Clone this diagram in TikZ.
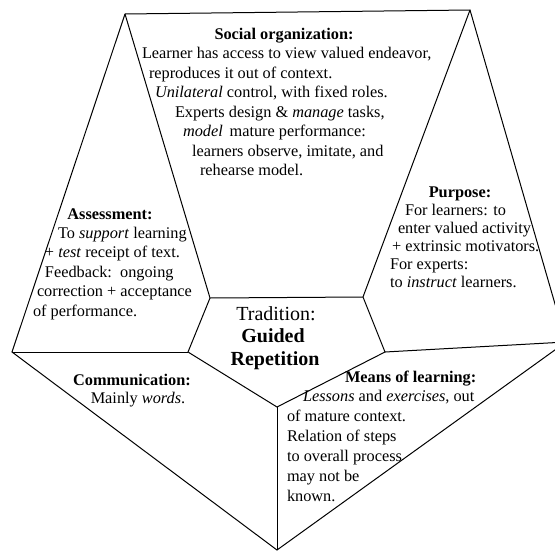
\documentclass[tikz,border=0pt]{standalone}
\usepackage{fontspec}
\setmainfont{Liberation Serif}
\begin{document}
\begin{tikzpicture}[x=1pt,y=-1pt,
  edge/.style={line width=1pt, line join=miter},
  txt/.style={inner sep=0pt, outer sep=0pt, font=\fontsize{16.3}{19}\selectfont, anchor=base west},
  ttl/.style={inner sep=0pt, outer sep=0pt, font=\fontsize{16.3}{19}\selectfont\bfseries, anchor=base},
  ctr/.style={inner sep=0pt, outer sep=0pt, font=\fontsize{20}{24}\selectfont, anchor=base}]
\useasboundingbox (0,0) rectangle (555,552);
\clip (0,0) rectangle (555,552);
% outer pentagon
\coordinate (TL) at (125,14);
\coordinate (TR) at (470,10);
\coordinate (R) at (566,342);
\coordinate (B) at (277,550);
\coordinate (L) at (12,352);
% inner pentagon
\coordinate (iTL) at (210,298);
\coordinate (iTR) at (363,297);
\coordinate (iR) at (385,352);
\coordinate (iB) at (277,407);
\coordinate (iL) at (188,352);
\draw[edge] (TL) -- (TR) -- (R) -- (B) -- (L) -- cycle;
\draw[edge] (iTL) -- (iTR) -- (iR) -- (iB) -- (iL) -- cycle;
\draw[edge] (TL) -- (iTL);
\draw[edge] (TR) -- (iTR);
\draw[edge] (R) -- (iR);
\draw[edge] (B) -- (iB);
\draw[edge] (L) -- (iL);
% Social organization
\node[ttl] (soT) at (284,39) {Social organization:};
\node[txt] (so1) at (142,58.5) {Learner has access to view valued endeavor,};
\node[txt] (so2) at (149,78) {reproduces it out of context.};
\node[txt] (so3) at (155,97.5) {\textit{Unilateral} control, with fixed roles.};
\node[txt] (so4) at (175,117) {Experts design \& \textit{manage} tasks,};
\node[txt] (so5) at (183,136.5) {\textit{model}\, mature performance:};
\node[txt] (so6) at (192,156) {learners observe, imitate, and};
\node[txt] (so7) at (200,175.5) {rehearse model.};
% Assessment
\node[ttl] (asT) at (110,219) {Assessment:};
\node[txt] (as1) at (58,238) {To \textit{support} learning};
\node[txt] (as2) at (45,257.5) {+ \textit{test} receipt of text.};
\node[txt] (as3) at (45,277) {Feedback:\, ongoing};
\node[txt] (as4) at (37,296.5) {correction + acceptance};
\node[txt] (as5) at (33,316) {of performance.};
% Purpose
\node[ttl] (puT) at (460,197) {Purpose:};
\node[txt] (pu1) at (405,215) {For learners: to};
\node[txt] (pu2) at (398,233) {enter valued activity};
\node[txt] (pu3) at (392,251) {+ extrinsic motivators.};
\node[txt] (pu4) at (390,269) {For experts:};
\node[txt] (pu5) at (390,287) {to \textit{instruct} learners.};
% Centre
\node[ctr] (ce1) at (276,320) {Tradition:};
\node[ctr, font=\fontsize{20}{24}\selectfont\bfseries] (ce2) at (273,342) {Guided};
\node[ctr, font=\fontsize{20}{24}\selectfont\bfseries] (ce3) at (275,365) {Repetition};
% Communication
\node[ttl] (coT) at (132,385) {Communication:};
\node[ttl, font=\fontsize{16.3}{19}\selectfont] (co1) at (138,403) {Mainly \textit{words}.};
% Means of learning
\node[txt, font=\fontsize{16.3}{19}\selectfont\bfseries] (meT) at (345,382) {Means of learning:};
\node[txt] (me1) at (303,401) {\textit{Lessons} and \textit{exercises}, out};
\node[txt] (me2) at (287,421) {of mature context.};
\node[txt] (me3) at (287,441) {Relation of steps};
\node[txt] (me4) at (287,461) {to overall process};
\node[txt] (me5) at (287,481) {may not be};
\node[txt] (me6) at (287,501) {known.};
\end{tikzpicture}
\end{document}
